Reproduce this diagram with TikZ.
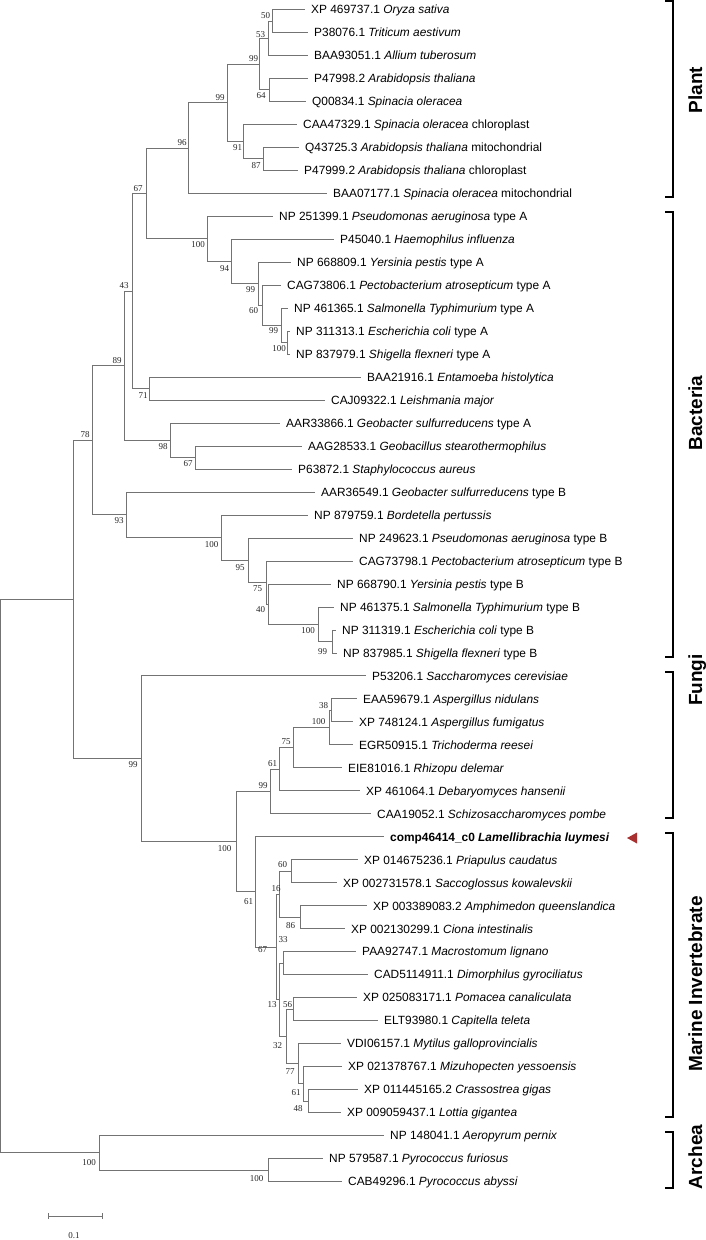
\documentclass[tikz,border=0pt]{standalone}
\usepackage{fontspec}
\setmainfont{Liberation Sans}
\newfontfamily\bsfont{Liberation Serif}
\begin{document}
\begin{tikzpicture}[x=1pt,y=-1pt,
  br/.style={draw=black!55,line width=0.9pt},
  leaf/.style={anchor=west,inner xsep=6pt,inner ysep=0pt,text height=10pt,text depth=1.4pt,font=\fontsize{11.9}{13}\selectfont,text=black},
  bs/.style={inner sep=0pt,font=\bsfont\fontsize{9}{10}\selectfont,text=black!85},
  grp/.style={rotate=90,anchor=base,inner sep=0pt,font=\bfseries\fontsize{19}{22}\selectfont},
  brk/.style={draw=black,line width=1.6pt},
  redtri/.style={fill={rgb,255:red,168;green,48;blue,48}}]
\useasboundingbox (0,0) rectangle (706,1240);
% leaves
\node[leaf] (l1) at (305,9.5) {XP 469737.1 \textit{Oryza sativa}};
\node[leaf] (l2) at (308,32.48) {P38076.1 \textit{Triticum aestivum}};
\node[leaf] (l3) at (308,55.46) {BAA93051.1 \textit{Allium tuberosum}};
\node[leaf] (l4) at (308,78.44) {P47998.2 \textit{Arabidopsis thaliana}};
\node[leaf] (l5) at (306,101.42) {Q00834.1 \textit{Spinacia oleracea}};
\node[leaf] (l6) at (297,124.4) {CAA47329.1 \textit{Spinacia oleracea} chloroplast};
\node[leaf] (l7) at (299,147.38) {Q43725.3 \textit{Arabidopsis thaliana} mitochondrial};
\node[leaf] (l8) at (298,170.36) {P47999.2 \textit{Arabidopsis thaliana} chloroplast};
\node[leaf] (l9) at (327,193.34) {BAA07177.1 \textit{Spinacia oleracea} mitochondrial};
\node[leaf] (l10) at (273,216.32) {NP 251399.1 \textit{Pseudomonas aeruginosa} type A};
\node[leaf] (l11) at (334,239.3) {P45040.1 \textit{Haemophilus influenza}};
\node[leaf] (l12) at (291,262.28) {NP 668809.1 \textit{Yersinia pestis} type A};
\node[leaf] (l13) at (281,285.26) {CAG73806.1 \textit{Pectobacterium atrosepticum} type A};
\node[leaf] (l14) at (288,308.24) {NP 461365.1 \textit{Salmonella Typhimurium} type A};
\node[leaf] (l15) at (290,331.22) {NP 311313.1 \textit{Escherichia coli} type A};
\node[leaf] (l16) at (290,354.2) {NP 837979.1 \textit{Shigella flexneri} type A};
\node[leaf] (l17) at (361,377.18) {BAA21916.1 \textit{Entamoeba histolytica}};
\node[leaf] (l18) at (325,400.16) {CAJ09322.1 \textit{Leishmania major}};
\node[leaf] (l19) at (280,423.14) {AAR33866.1 \textit{Geobacter sulfurreducens} type A};
\node[leaf] (l20) at (302,446.12) {AAG28533.1 \textit{Geobacillus stearothermophilus}};
\node[leaf] (l21) at (292,469.1) {P63872.1 \textit{Staphylococcus aureus}};
\node[leaf] (l22) at (315,492.08) {AAR36549.1 \textit{Geobacter sulfurreducens} type B};
\node[leaf] (l23) at (308,515.06) {NP 879759.1 \textit{Bordetella pertussis}};
\node[leaf] (l24) at (353,538.04) {NP 249623.1 \textit{Pseudomonas aeruginosa} type B};
\node[leaf] (l25) at (353,561.02) {CAG73798.1 \textit{Pectobacterium atrosepticum} type B};
\node[leaf] (l26) at (331,584.0) {NP 668790.1 \textit{Yersinia pestis} type B};
\node[leaf] (l27) at (334,606.98) {NP 461375.1 \textit{Salmonella Typhimurium} type B};
\node[leaf] (l28) at (336,629.96) {NP 311319.1 \textit{Escherichia coli} type B};
\node[leaf] (l29) at (337,652.94) {NP 837985.1 \textit{Shigella flexneri} type B};
\node[leaf] (l30) at (366,675.92) {P53206.1 \textit{Saccharomyces cerevisiae}};
\node[leaf] (l31) at (357,698.9) {EAA59679.1 \textit{Aspergillus nidulans}};
\node[leaf] (l32) at (353,721.88) {XP 748124.1 \textit{Aspergillus fumigatus}};
\node[leaf] (l33) at (353,744.86) {EGR50915.1 \textit{Trichoderma reesei}};
\node[leaf] (l34) at (342,767.84) {EIE81016.1 \textit{Rhizopu delemar}};
\node[leaf] (l35) at (360,790.82) {XP 461064.1 \textit{Debaryomyces hansenii}};
\node[leaf] (l36) at (371,813.8) {CAA19052.1 \textit{Schizosaccharomyces pombe}};
\node[leaf] (l37) at (384,836.78) {\textbf{comp46414\_c0 \textit{Lamellibrachia luymesi}}};
\node[leaf] (l38) at (358,859.76) {XP 014675236.1 \textit{Priapulus caudatus}};
\node[leaf] (l39) at (337,882.74) {XP 002731578.1 \textit{Saccoglossus kowalevskii}};
\node[leaf] (l40) at (367,905.72) {XP 003389083.2 \textit{Amphimedon queenslandica}};
\node[leaf] (l41) at (345,928.7) {XP 002130299.1 \textit{Ciona intestinalis}};
\node[leaf] (l42) at (356,951.68) {PAA92747.1 \textit{Macrostomum lignano}};
\node[leaf] (l43) at (368,974.66) {CAD5114911.1 \textit{Dimorphilus gyrociliatus}};
\node[leaf] (l44) at (357,997.64) {XP 025083171.1 \textit{Pomacea canaliculata}};
\node[leaf] (l45) at (378,1020.62) {ELT93980.1 \textit{Capitella teleta}};
\node[leaf] (l46) at (341,1043.6) {VDI06157.1 \textit{Mytilus galloprovincialis}};
\node[leaf] (l47) at (342,1066.58) {XP 021378767.1 \textit{Mizuhopecten yessoensis}};
\node[leaf] (l48) at (358,1089.56) {XP 011445165.2 \textit{Crassostrea gigas}};
\node[leaf] (l49) at (341,1112.54) {XP 009059437.1 \textit{Lottia gigantea}};
\node[leaf] (l50) at (384,1135.52) {NP 148041.1 \textit{Aeropyrum pernix}};
\node[leaf] (l51) at (323,1158.5) {NP 579587.1 \textit{Pyrococcus furiosus}};
\node[leaf] (l52) at (342,1181.48) {CAB49296.1 \textit{Pyrococcus abyssi}};
% internal nodes
\coordinate (n50) at (272,21.0);
\coordinate (n53) at (268,38.23);
\coordinate (n64) at (269,89.93);
\coordinate (n99a) at (259,64.08);
\coordinate (n87) at (263,158.87);
\coordinate (n91) at (243,141.64);
\coordinate (n99b) at (227,102.86);
\coordinate (n96) at (188,148.1);
\coordinate (n100a) at (287,342.71);
\coordinate (n99c) at (281,325.48);
\coordinate (n60) at (262,305.37);
\coordinate (n99d) at (258,283.83);
\coordinate (n94) at (231,261.56);
\coordinate (n100b) at (207,238.94);
\coordinate (n67a) at (146,193.52);
\coordinate (n71) at (149,388.67);
\coordinate (n43) at (132,291.1);
\coordinate (n67b) at (195,457.61);
\coordinate (n98) at (170,440.38);
\coordinate (n89) at (124,365.74);
\coordinate (n99e) at (332,641.45);
\coordinate (n100c) at (318,624.22);
\coordinate (n40) at (268,604.11);
\coordinate (n75) at (266,582.57);
\coordinate (n95) at (248,560.3);
\coordinate (n100d) at (221,537.68);
\coordinate (n93) at (126,514.88);
\coordinate (n78) at (92,440.31);
\coordinate (n38) at (331,710.39);
\coordinate (n100e) at (329,727.63);
\coordinate (n75b) at (293,747.74);
\coordinate (n61a) at (279,769.28);
\coordinate (n99f) at (270,791.54);
\coordinate (n60b) at (291,871.25);
\coordinate (n86) at (300,917.21);
\coordinate (n16) at (279,894.23);
\coordinate (n33) at (283,963.17);
\coordinate (n56) at (293,1009.13);
\coordinate (n48) at (308,1101.05);
\coordinate (n61c) at (303,1083.82);
\coordinate (n77) at (298,1063.71);
\coordinate (n32) at (286,1036.42);
\coordinate (n13) at (279,999.8);
\coordinate (n67c) at (276,947.02);
\coordinate (n61b) at (255,891.9);
\coordinate (n100f) at (236,841.72);
\coordinate (n99g) at (141,758.82);
\coordinate (nA) at (73,599.57);
\coordinate (n100g) at (268,1169.99);
\coordinate (n100h) at (99,1152.76);
\coordinate (root) at (0.7,876.2);
% branches
\foreach \p/\c in {n50/l1.west,n50/l2.west,n53/n50,n53/l3.west,n64/l4.west,n64/l5.west,
  n99a/n53,n99a/n64,n87/l7.west,n87/l8.west,n91/l6.west,n91/n87,n99b/n99a,n99b/n91,
  n96/n99b,n96/l9.west,n67a/n96,n67a/n100b,n100b/l10.west,n100b/n94,n94/l11.west,n94/n99d,
  n99d/l12.west,n99d/n60,n60/l13.west,n60/n99c,n99c/l14.west,n99c/n100a,n100a/l15.west,n100a/l16.west,
  n71/l17.west,n71/l18.west,n43/n67a,n43/n71,n67b/l20.west,n67b/l21.west,n98/l19.west,n98/n67b,
  n89/n43,n89/n98,n99e/l28.west,n99e/l29.west,n100c/l27.west,n100c/n99e,n40/l26.west,n40/n100c,
  n75/l25.west,n75/n40,n95/l24.west,n95/n75,n100d/l23.west,n100d/n95,n93/l22.west,n93/n100d,
  n78/n89,n78/n93,n38/l31.west,n38/l32.west,n100e/n38,n100e/l33.west,n75b/n100e,n75b/l34.west,
  n61a/n75b,n61a/l35.west,n99f/n61a,n99f/l36.west,n60b/l38.west,n60b/l39.west,n86/l40.west,n86/l41.west,
  n16/n60b,n16/n86,n33/l42.west,n33/l43.west,n56/l44.west,n56/l45.west,n48/l48.west,n48/l49.west,
  n61c/l47.west,n61c/n48,n77/l46.west,n77/n61c,n32/n56,n32/n77,n13/n33,n13/n32,n67c/n16,n67c/n13,
  n61b/l37.west,n61b/n67c,n100f/n99f,n100f/n61b,n99g/l30.west,n99g/n100f,nA/n78,nA/n99g,
  n100g/l51.west,n100g/l52.west,n100h/l50.west,n100h/n100g,root/nA,root/n100h}
  \draw[br] (\p) |- (\c);
% bootstrap values
\node[bs] (b1) at (265.5,15.5) {50};
\node[bs] (b2) at (260.5,34.5) {53};
\node[bs] (b3) at (253.5,59) {99};
\node[bs] (b4) at (261,96) {64};
\node[bs] (b5) at (220,98) {99};
\node[bs] (b6) at (237.5,148) {91};
\node[bs] (b7) at (256,166) {87};
\node[bs] (b8) at (182,143) {96};
\node[bs] (b9) at (138,188.5) {67};
\node[bs] (b10) at (198,245) {100};
\node[bs] (b11) at (224.5,269) {94};
\node[bs] (b12) at (250.5,289.5) {99};
\node[bs] (b13) at (253.5,311) {60};
\node[bs] (b14) at (273.5,331) {99};
\node[bs] (b15) at (279,349) {100};
\node[bs] (b16) at (124,286) {43};
\node[bs] (b17) at (143,396) {71};
\node[bs] (b18) at (117,360.5) {89};
\node[bs] (b19) at (163,446.5) {98};
\node[bs] (b20) at (188,464) {67};
\node[bs] (b21) at (85,435) {78};
\node[bs] (b22) at (119,520.5) {93};
\node[bs] (b23) at (211.5,545) {100};
\node[bs] (b24) at (240,568) {95};
\node[bs] (b25) at (257.5,589) {75};
\node[bs] (b26) at (260.5,610) {40};
\node[bs] (b27) at (308,631) {100};
\node[bs] (b28) at (322.5,651.5) {99};
\node[bs] (b29) at (133,765) {99};
\node[bs] (b30) at (323.5,705.5) {38};
\node[bs] (b31) at (318.5,721.5) {100};
\node[bs] (b32) at (286,742) {75};
\node[bs] (b33) at (272.5,764) {61};
\node[bs] (b34) at (263,785.5) {99};
\node[bs] (b35) at (224.5,849) {100};
\node[bs] (b36) at (248.5,902) {61};
\node[bs] (b37) at (282.5,865) {60};
\node[bs] (b38) at (276,888.5) {16};
\node[bs] (b39) at (290.5,925.5) {86};
\node[bs] (b40) at (262.5,950) {67};
\node[bs] (b41) at (283,940) {33};
\node[bs] (b42) at (272,1005) {13};
\node[bs] (b43) at (287.5,1005) {56};
\node[bs] (b44) at (277.5,1045.5) {32};
\node[bs] (b45) at (290,1071.5) {77};
\node[bs] (b46) at (296,1092.5) {61};
\node[bs] (b47) at (298,1108.5) {48};
\node[bs] (b48) at (89,1162.5) {100};
\node[bs] (b49) at (256.5,1178.5) {100};
% marker
\fill[redtri] (627,838) -- (637,832.5) -- (637,843.5) -- cycle;
% brackets
\draw[brk] (665,1) -- (673,1) -- (673,197) -- (665,197);
\draw[brk] (665,212) -- (673,212) -- (673,657) -- (665,657);
\draw[brk] (665,672) -- (673,672) -- (673,818) -- (665,818);
\draw[brk] (665,833) -- (673,833) -- (673,1117) -- (665,1117);
\draw[brk] (665,1132) -- (673,1132) -- (673,1188) -- (665,1188);
\node[grp] (g1) at (702,90) {Plant};
\node[grp] (g2) at (702,413) {Bacteria};
\node[grp] (g3) at (702,680) {Fungi};
\node[grp] (g4) at (702,984) {Marine Invertebrate};
\node[grp] (g5) at (702,1157) {Archea};
% scale bar
\coordinate (s1) at (48,1216);
\coordinate (s2) at (102,1216);
\draw[br] (s1) -- (s2);
\draw[br] ([yshift=-3pt]s1) -- ([yshift=3pt]s1);
\draw[br] ([yshift=-3pt]s2) -- ([yshift=3pt]s2);
\node[bs] (sl) at (74,1236) {0.1};
\end{tikzpicture}
\end{document}
